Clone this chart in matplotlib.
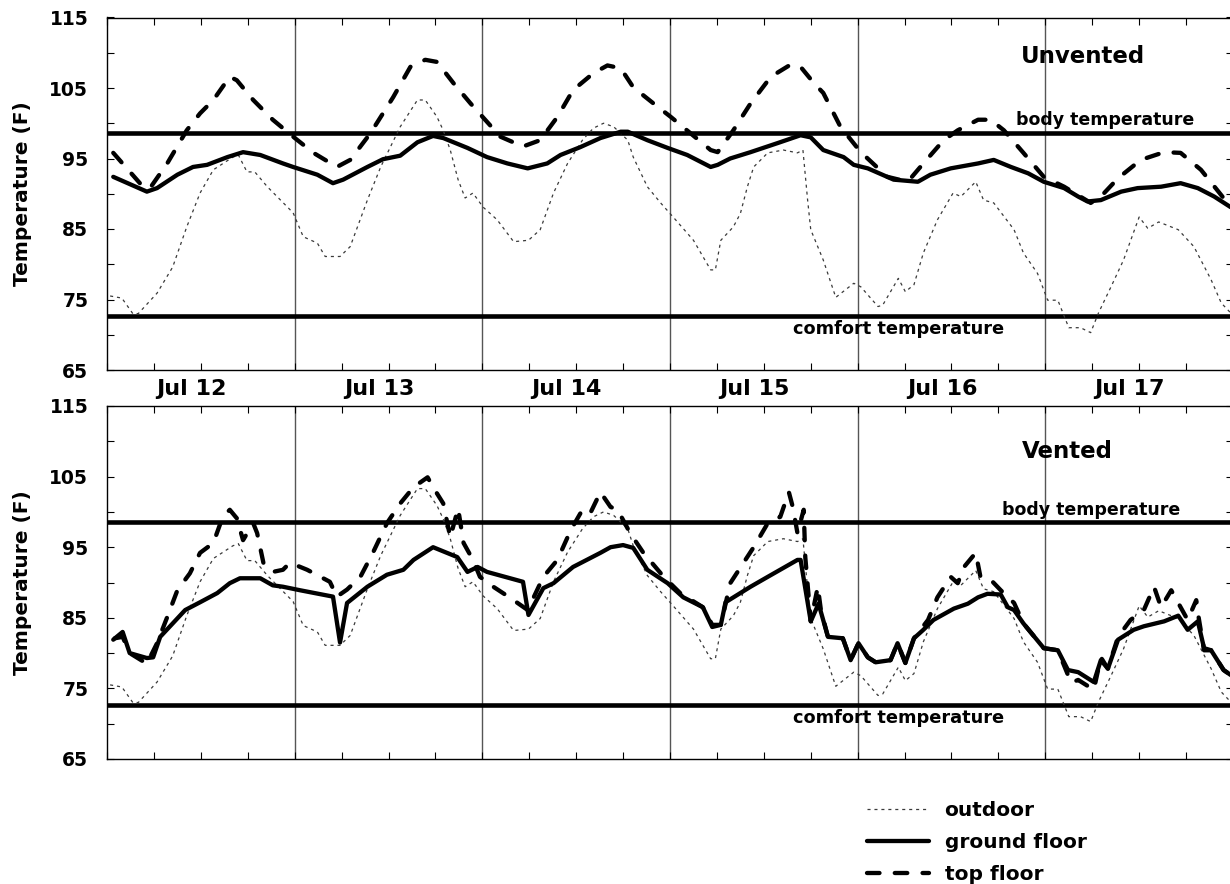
import matplotlib
matplotlib.use("Agg")
import matplotlib.pyplot as plt
from matplotlib.ticker import MultipleLocator, FixedLocator
from matplotlib.transforms import blended_transform_factory

plt.rcParams['font.family'] = ['DejaVu Sans']
plt.rcParams['font.weight'] = 'bold'
plt.rcParams['lines.scale_dashes'] = False

# ---------------------------------------------------------------
# Data: hours since Jul 12 00:00, temperatures in degrees F
# ---------------------------------------------------------------
day_labels = ['Jul 12', 'Jul 13', 'Jul 14', 'Jul 15', 'Jul 16', 'Jul 17']

body_temp = 98.6
comfort_temp = 72.6

outdoor_h = [0.4, 1.9, 3.3, 4.0, 6.4, 8.4, 10.2, 11.9, 13.6, 16.1,
             16.8, 17.9, 18.9, 20.5, 23.8, 25.1, 26.9, 27.9, 29.8, 31.1,
             33.3, 35.0, 37.5, 39.7, 40.7, 42.2, 43.0, 43.9, 44.9, 45.8,
             46.8, 48.1, 49.9, 52.0, 53.9, 55.4, 57.1, 58.9, 60.8, 62.2,
             63.5, 64.8, 66.6, 67.3, 69.1, 70.8, 72.4, 75.0, 77.2, 77.8,
             78.5, 80.1, 81.0, 81.9, 82.7, 84.5, 86.5, 88.3, 89.0, 89.6,
             90.0, 91.6, 93.2, 95.5, 96.4, 98.6, 99.2, 101.2, 102.1, 103.2,
             104.4, 106.2, 108.2, 109.2, 111.1, 112.1, 113.4, 116.0, 117.2, 119.0,
             120.3, 121.6, 123.0, 124.5, 125.8, 126.8, 128.4, 130.0, 132.0, 133.1,
             134.5, 137.0, 139.0, 141.2, 142.5, 143.7]
outdoor_t = [75.5, 75.2, 73.0, 73.0, 75.9, 79.6, 85.3, 90.1, 93.4, 95.2,
             95.5, 93.1, 93.1, 91.0, 87.3, 83.9, 83.0, 81.1, 81.1, 82.5,
             89.1, 93.8, 99.5, 103.3, 103.3, 100.9, 99.0, 96.2, 92.0, 89.4,
             90.1, 88.1, 86.3, 83.2, 83.4, 84.9, 90.1, 94.3, 97.6, 99.3,
             100.0, 99.5, 97.6, 95.2, 91.0, 88.7, 86.7, 83.4, 79.2, 79.2,
             83.4, 85.3, 87.2, 91.0, 93.8, 95.8, 96.2, 95.8, 96.2, 89.1,
             84.9, 80.6, 75.3, 77.3, 76.8, 74.0, 74.2, 78.0, 76.1, 77.1,
             81.6, 86.3, 90.1, 89.6, 91.7, 89.1, 88.7, 84.9, 81.6, 78.7,
             74.9, 74.9, 71.0, 71.0, 70.3, 73.1, 76.8, 80.6, 86.7, 85.1,
             86.0, 84.9, 82.5, 77.8, 74.5, 73.1]

# Unvented house
unv_ground_h = [0.8, 5.1, 6.4, 9.0, 11.0, 12.8, 15.4, 17.4, 19.6, 22.5,
                23.8, 26.9, 28.9, 30.2, 33.3, 35.3, 37.5, 39.7, 41.7, 43.0,
                46.1, 48.6, 51.2, 53.8, 56.3, 58.0, 60.5, 63.1, 65.7, 66.6,
                69.1, 71.7, 74.2, 77.2, 78.1, 79.7, 82.3, 85.8, 88.7, 90.0,
                91.6, 94.2, 95.5, 97.3, 100.6, 103.7, 105.3, 107.9, 111.4, 113.4,
                115.6, 117.8, 119.8, 122.4, 124.2, 125.4, 127.1, 129.7, 131.8, 134.8,
                137.3, 139.5, 141.6, 143.7]
unv_ground_t = [92.4, 90.3, 90.8, 92.7, 93.8, 94.1, 95.2, 95.9, 95.5, 94.3,
                93.8, 92.7, 91.5, 92.0, 93.8, 94.9, 95.4, 97.3, 98.2, 97.9,
                96.5, 95.2, 94.3, 93.6, 94.3, 95.5, 96.6, 97.9, 98.8, 98.8,
                97.6, 96.5, 95.5, 93.8, 94.1, 95.0, 95.9, 97.2, 98.3, 98.0,
                96.2, 95.2, 94.1, 93.6, 92.0, 91.7, 92.7, 93.6, 94.3, 94.8,
                93.8, 92.9, 91.7, 90.8, 89.6, 88.9, 89.1, 90.3, 90.8, 91.0,
                91.5, 90.8, 89.6, 88.1]

unv_top_h = [0.8, 4.6, 5.5, 7.7, 10.2, 11.9, 13.6, 15.7, 16.6, 18.7,
             21.2, 23.8, 26.4, 29.4, 31.1, 33.7, 36.6, 38.8, 40.7, 42.2,
             44.3, 46.5, 48.6, 50.3, 53.2, 55.4, 57.6, 59.6, 62.2, 64.0,
             65.7, 67.3, 69.9, 72.1, 74.6, 77.2, 78.1, 80.1, 82.3, 84.9,
             87.4, 88.7, 90.4, 91.6, 93.8, 96.4, 99.8, 102.4, 104.4, 107.0,
             108.8, 111.4, 113.0, 114.7, 117.2, 119.8, 122.4, 125.8, 127.1, 129.3,
             132.2, 135.2, 137.3, 139.9, 142.5, 143.7]
unv_top_t = [95.8, 91.0, 90.8, 94.3, 99.0, 101.4, 103.3, 106.6, 106.1, 103.3,
             100.5, 98.1, 95.8, 93.8, 94.8, 98.6, 103.7, 108.0, 109.0, 108.7,
             105.7, 102.8, 100.2, 98.1, 96.7, 97.6, 100.9, 104.7, 107.1, 108.2,
             107.8, 105.1, 102.8, 100.9, 98.6, 96.2, 95.9, 99.0, 102.8, 106.6,
             108.3, 108.0, 105.7, 104.3, 99.5, 95.9, 92.4, 91.7, 94.3, 97.6,
             99.0, 100.5, 100.5, 99.0, 95.8, 92.4, 91.0, 88.7, 89.6, 92.2,
             94.8, 95.9, 95.8, 93.4, 89.8, 88.1]

# Vented house
ven_ground_h = [0.8, 2.0, 2.9, 5.1, 5.9, 6.8, 8.4, 10.0, 11.9, 14.1,
                15.7, 17.0, 19.6, 21.2, 22.5, 24.7, 28.9, 29.8, 30.7, 33.3,
                35.8, 37.9, 39.2, 41.7, 44.8, 46.1, 47.4, 48.6, 53.2, 53.9,
                55.8, 57.1, 59.6, 63.1, 64.4, 66.0, 67.3, 69.1, 71.7, 73.7,
                76.2, 77.4, 78.5, 79.1, 82.3, 84.5, 88.3, 88.7, 90.0, 91.0,
                92.2, 94.1, 95.1, 96.1, 97.3, 98.3, 100.2, 101.1, 102.1, 103.2,
                104.4, 105.7, 108.3, 110.1, 111.4, 112.6, 114.3, 115.2, 116.0, 117.2,
                119.8, 121.6, 122.9, 124.2, 126.2, 127.1, 128.0, 129.3, 131.3, 132.6,
                135.2, 137.0, 138.2, 139.5, 140.3, 141.2, 142.8, 143.7]
ven_ground_t = [81.9, 83.0, 80.0, 79.3, 79.4, 82.3, 84.2, 86.1, 87.2, 88.5,
                89.9, 90.6, 90.6, 89.6, 89.4, 88.9, 88.0, 81.5, 87.1, 89.4,
                91.1, 91.8, 93.2, 95.0, 93.6, 91.5, 92.2, 91.5, 90.1, 85.4,
                89.2, 89.9, 92.2, 94.2, 95.0, 95.3, 94.9, 91.8, 89.9, 87.9,
                86.5, 83.7, 84.0, 87.2, 89.4, 90.8, 93.2, 93.2, 84.5, 87.0,
                82.3, 82.1, 79.0, 81.4, 79.4, 78.7, 79.0, 81.4, 78.6, 82.1,
                83.3, 84.7, 86.3, 87.0, 87.9, 88.4, 88.3, 86.5, 86.1, 84.2,
                80.7, 80.4, 77.6, 77.3, 75.9, 79.0, 77.8, 81.9, 83.3, 83.8,
                84.5, 85.3, 83.3, 84.5, 80.7, 80.4, 77.6, 76.9]

ven_top_h = [1.0, 2.0, 2.9, 5.1, 6.4, 7.7, 9.0, 10.6, 11.9, 13.6,
             14.8, 15.7, 16.6, 17.4, 18.7, 19.2, 20.0, 21.2, 22.5, 23.4,
             25.6, 28.5, 29.4, 30.7, 32.4, 34.0, 35.8, 37.5, 39.2, 41.0,
             41.7, 43.0, 43.9, 44.9, 45.6, 46.8, 47.7, 49.4, 51.6, 53.8,
             55.8, 57.6, 59.3, 60.8, 61.8, 63.1, 64.4, 65.3, 66.9, 68.6,
             71.2, 73.3, 76.2, 77.4, 78.5, 79.7, 82.7, 84.5, 86.1, 87.2,
             87.7, 88.3, 89.1, 89.3, 90.0, 90.9, 91.3, 92.2, 94.1, 95.1,
             96.1, 97.3, 98.3, 100.2, 101.1, 102.1, 103.2, 105.0, 106.2, 107.9,
             108.8, 109.6, 111.1, 111.7, 113.0, 114.3, 116.0, 117.2, 119.8, 121.6,
             123.3, 124.2, 126.2, 127.1, 128.0, 129.3, 130.9, 132.6, 133.9, 134.8,
             136.1, 137.0, 138.2, 139.3, 139.6, 140.3, 141.2, 142.8, 143.7]
ven_top_t = [82.1, 82.3, 80.0, 78.5, 81.4, 85.1, 88.9, 91.3, 94.2, 95.6,
             99.3, 100.3, 99.1, 96.0, 98.4, 97.0, 92.8, 91.5, 91.8, 92.8,
             91.8, 90.1, 88.0, 89.0, 90.8, 94.2, 98.4, 101.2, 103.5, 104.9,
             103.5, 101.2, 96.4, 100.5, 95.6, 93.2, 90.8, 89.4, 87.8, 86.1,
             90.8, 93.2, 97.4, 100.3, 99.8, 102.8, 100.7, 100.3, 97.0, 94.2,
             90.8, 88.5, 86.5, 84.0, 84.0, 89.9, 95.0, 98.4, 99.3, 102.8,
             100.7, 97.0, 100.3, 93.6, 84.5, 89.4, 86.1, 82.3, 82.1, 79.0,
             81.4, 79.4, 78.7, 79.0, 81.4, 78.6, 82.1, 84.7, 87.9, 90.8,
             89.9, 92.2, 94.2, 90.8, 90.4, 88.9, 87.1, 84.2, 80.7, 80.4,
             75.8, 76.2, 74.8, 79.4, 77.8, 82.3, 84.7, 86.1, 89.4, 86.5,
             88.9, 87.1, 84.7, 87.5, 85.1, 80.4, 80.4, 77.6, 76.9]

# ---------------------------------------------------------------
# Styles
# ---------------------------------------------------------------
OUT_STYLE = dict(color='#3a3a3a', lw=0.9, linestyle=(0, (2.2, 2.8)))
GROUND_STYLE = dict(color='black', lw=3.1, solid_joinstyle='round',
                    solid_capstyle='round')
TOP_STYLE = dict(color='black', lw=3.1, linestyle=(0, (9, 11)),
                 dash_capstyle='round', dash_joinstyle='round')

W, H = 1230, 884


def rect(left, top, right, bottom):
    return [left / W, 1 - bottom / H, (right - left) / W, (bottom - top) / H]


fig = plt.figure(figsize=(W / 100, H / 100), dpi=100)
ax_top = fig.add_axes(rect(107, 17.5, 1233, 370))
ax_bot = fig.add_axes(rect(107, 406, 1233, 759))


def setup(ax):
    ax.set_xlim(0, 144)
    ax.set_ylim(65, 115)
    ax.xaxis.set_major_locator(MultipleLocator(6))
    ax.yaxis.set_major_locator(FixedLocator(range(65, 116, 10)))
    ax.yaxis.set_minor_locator(MultipleLocator(5))
    ax.tick_params(axis='x', which='both', direction='in', top=True,
                   bottom=True, labelbottom=False, length=5, width=0.8)
    ax.tick_params(axis='y', which='both', direction='in', left=True,
                   right=True, length=5, width=0.8, labelsize=13.5, pad=13.5)
    for s in ax.spines.values():
        s.set_linewidth(1.0)
    for d in range(24, 144, 24):
        ax.axvline(d, color='#555555', lw=1.0, zorder=1)
    ax.axhline(body_temp, color='black', lw=3.3, zorder=2)
    ax.axhline(comfort_temp, color='black', lw=3.3, zorder=2)
    ax.text(-0.0747, 0.5, 'Temperature (F)', rotation=90, ha='center',
            va='center', transform=ax.transAxes, fontsize=14.5,
            fontweight='bold')


for ax in (ax_top, ax_bot):
    setup(ax)

# Unvented panel
ax_top.plot(outdoor_h, outdoor_t, **OUT_STYLE, zorder=3)
ax_top.plot(unv_ground_h, unv_ground_t, **GROUND_STYLE, zorder=4)
ax_top.plot(unv_top_h, unv_top_t, **TOP_STYLE, zorder=5)
ax_top.text(116.9, 108.5, 'Unvented', fontsize=16.5, ha='left', va='baseline')
ax_top.text(116.2, 99.8, 'body temperature', fontsize=12.5, ha='left', va='baseline')
ax_top.text(87.7, 70.1, 'comfort temperature', fontsize=12.8, ha='left', va='baseline')

# Vented panel
l_out, = ax_bot.plot(outdoor_h, outdoor_t, **OUT_STYLE, zorder=3)
l_gr, = ax_bot.plot(ven_ground_h, ven_ground_t, **GROUND_STYLE, zorder=4)
l_tp, = ax_bot.plot(ven_top_h, ven_top_t, **TOP_STYLE, zorder=5)
ax_bot.text(117.0, 107.6, 'Vented', fontsize=16.5, ha='left', va='baseline')
ax_bot.text(114.4, 99.6, 'body temperature', fontsize=12.5, ha='left', va='baseline')
ax_bot.text(87.7, 70.1, 'comfort temperature', fontsize=12.8, ha='left', va='baseline')

# Day labels between the panels
trans = blended_transform_factory(ax_top.transData, ax_top.transAxes)
for i, lab in enumerate(day_labels):
    ax_top.text(12 + 24 * i - 1.2, -0.054, lab, transform=trans, ha='center',
                va='center', fontsize=16, fontweight='bold')

fig.legend(handles=[l_out, l_gr, l_tp],
           labels=['outdoor', 'ground floor', 'top floor'],
           loc='upper left', bbox_to_anchor=(867 / W, 1 - 801 / H),
           frameon=False, fontsize=14.5, handlelength=3.1,
           handletextpad=0.75, labelspacing=0.65, borderpad=0,
           borderaxespad=0)

fig.savefig('out.png', dpi=100)
